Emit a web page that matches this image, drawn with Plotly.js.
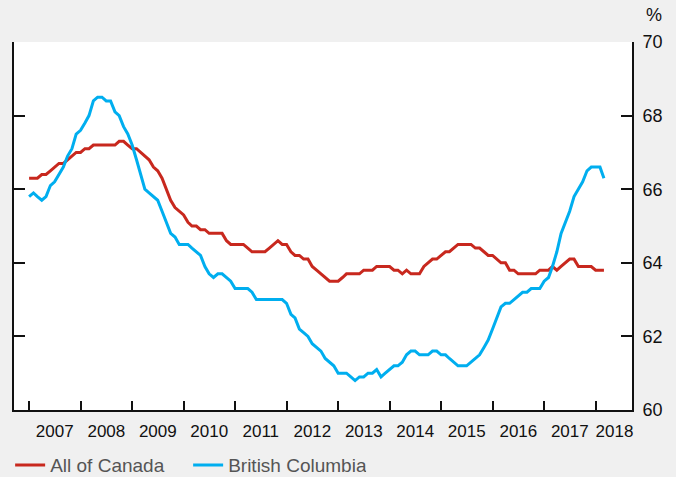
<!DOCTYPE html>
<html><head><meta charset="utf-8">
<script src="https://cdn.plot.ly/plotly-3.0.1.min.js"></script>
<style>html,body{margin:0;padding:0;background:#f0f0f0;}</style>
</head><body>
<div id="chart" style="width:676px;height:477px;"></div>
<script>
// Monthly values, Jan 2007 - Mar 2018
const startYear = 2007;
const seriesNames = ['All of Canada', 'British Columbia'];
const canada = [
66.3,66.3,66.3,66.4,66.4,66.5,66.6,66.7,66.7,66.8,66.9,67.0,
67.0,67.1,67.1,67.2,67.2,67.2,67.2,67.2,67.2,67.3,67.3,67.2,
67.1,67.1,67.0,66.9,66.8,66.6,66.5,66.3,66.0,65.7,65.5,65.4,
65.3,65.1,65.0,65.0,64.9,64.9,64.8,64.8,64.8,64.8,64.6,64.5,
64.5,64.5,64.5,64.4,64.3,64.3,64.3,64.3,64.4,64.5,64.6,64.5,
64.5,64.3,64.2,64.2,64.1,64.1,63.9,63.8,63.7,63.6,63.5,63.5,
63.5,63.6,63.7,63.7,63.7,63.7,63.8,63.8,63.8,63.9,63.9,63.9,
63.9,63.8,63.8,63.7,63.8,63.7,63.7,63.7,63.9,64.0,64.1,64.1,
64.2,64.3,64.3,64.4,64.5,64.5,64.5,64.5,64.4,64.4,64.3,64.2,
64.2,64.1,64.0,64.0,63.8,63.8,63.7,63.7,63.7,63.7,63.7,63.8,
63.8,63.8,63.9,63.8,63.9,64.0,64.1,64.1,63.9,63.9,63.9,63.9,
63.8,63.8,63.8
];
const bc = [
65.8,65.9,65.8,65.7,65.8,66.1,66.2,66.4,66.6,66.9,67.1,67.5,
67.6,67.8,68.0,68.4,68.5,68.5,68.4,68.4,68.1,68.0,67.7,67.5,
67.2,66.8,66.4,66.0,65.9,65.8,65.7,65.4,65.1,64.8,64.7,64.5,
64.5,64.5,64.4,64.3,64.2,63.9,63.7,63.6,63.7,63.7,63.6,63.5,
63.3,63.3,63.3,63.3,63.2,63.0,63.0,63.0,63.0,63.0,63.0,63.0,
62.9,62.6,62.5,62.2,62.1,62.0,61.8,61.7,61.6,61.4,61.3,61.2,
61.0,61.0,61.0,60.9,60.8,60.9,60.9,61.0,61.0,61.1,60.9,61.0,
61.1,61.2,61.2,61.3,61.5,61.6,61.6,61.5,61.5,61.5,61.6,61.6,
61.5,61.5,61.4,61.3,61.2,61.2,61.2,61.3,61.4,61.5,61.7,61.9,
62.2,62.5,62.8,62.9,62.9,63.0,63.1,63.2,63.2,63.3,63.3,63.3,
63.5,63.6,63.9,64.3,64.8,65.1,65.4,65.8,66.0,66.2,66.5,66.6,
66.6,66.6,66.3
];
const yearLabels = ['2007','2008','2009','2010','2011','2012','2013','2014','2015','2016','2017','2018'];
const yTickVals = [60, 62, 64, 66, 68, 70];

function pad(n){ return (n < 10 ? '0' : '') + n; }
function monthDate(i){
  const y = startYear + Math.floor(i / 12);
  const m = (i % 12) + 1;
  return y + '-' + pad(m) + '-01';
}
const dates = canada.map((_, i) => monthDate(i));

const yearStarts = yearLabels.map(y => y + '-01-01');
const labelPos = yearLabels.map((y, i) => i === yearLabels.length - 1 ? y + '-05-15' : y + '-07-02');

const font = 'Liberation Sans, Arial, sans-serif';

const traces = [
  {x: dates, y: canada, name: seriesNames[0], type: 'scatter', mode: 'lines',
   line: {color: '#c8281e', width: 3}},
  {x: dates, y: bc, name: seriesNames[1], type: 'scatter', mode: 'lines',
   line: {color: '#00aeef', width: 3}}
];

const layout = {
  width: 676, height: 477,
  paper_bgcolor: '#f0f0f0', plot_bgcolor: '#ffffff',
  margin: {l: 14, r: 44, t: 42, b: 67},
  font: {family: font, size: 18, color: '#111'},
  showlegend: true,
  legend: {orientation: 'h', xref: 'container', yref: 'container', x: 0.015, xanchor: 'left', y: 0.025, yanchor: 'middle',
           font: {family: font, size: 19, color: '#555'}, bgcolor: 'rgba(0,0,0,0)',
           entrywidth: 133, entrywidthmode: 'pixels', traceorder: 'normal'},
  xaxis: {
    type: 'date', range: ['2006-09-16', '2018-09-16'],
    tickmode: 'array', tickvals: labelPos, ticktext: yearLabels,
    ticks: '', showgrid: false, zeroline: false,
    showline: true, linecolor: '#111', linewidth: 2,
    tickfont: {family: font, size: 17, color: '#111'},
    ticklabelstandoff: 5,
    minor: {tickmode: 'array', tickvals: yearStarts, ticks: 'inside', ticklen: 9, tickwidth: 2, tickcolor: '#111', showgrid: false}
  },
  yaxis: {
    side: 'right', range: [60, 70], tickmode: 'array', tickvals: yTickVals,
    ticks: 'inside', ticklen: 11, tickwidth: 2, tickcolor: '#111',
    showline: true, linecolor: '#111', linewidth: 2, mirror: 'ticks',
    showgrid: false, zeroline: false,
    tickfont: {family: font, size: 18, color: '#111'},
    ticklabelstandoff: 5
  },
  annotations: [
    {text: '%', xref: 'paper', yref: 'paper', x: 1.0, y: 1.0, xshift: 22, yshift: 27,
     showarrow: false, xanchor: 'center', yanchor: 'middle',
     font: {family: font, size: 18, color: '#111'}}
  ]
};

Plotly.newPlot('chart', traces, layout, {displayModeBar: false, staticPlot: true});
</script>
</body></html>
